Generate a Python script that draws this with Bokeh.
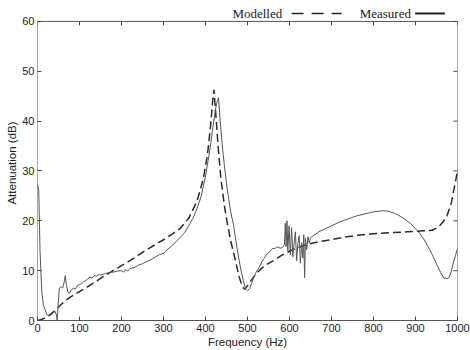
import math
from bokeh.plotting import figure
from bokeh.models import FixedTicker, Range1d, Label, Arrow
from bokeh.embed import file_html
from bokeh.resources import INLINE

# ---- data ----
freq_measured = [0, 3, 6, 10, 14, 18, 22, 26, 30, 34, 38, 42, 45, 47, 49, 52, 56, 60, 63, 66,
                 69, 72, 76, 80, 85, 90, 95, 100, 105, 110, 115, 120, 125, 130, 135, 140, 145,
                 150, 160, 170, 180, 190, 200, 205, 210, 215, 220, 230, 240, 250, 260, 270, 280,
                 290, 300, 310, 320, 330, 340, 350, 360, 370, 380, 390, 400, 410, 418, 424, 428,
                 431, 435, 440, 445, 450, 455, 460, 467, 475, 483, 490, 496, 500, 505, 510, 515,
                 520, 525, 530, 535, 540, 545, 550, 555, 560, 565, 570, 575, 580, 585, 588, 590,
                 592, 594, 596, 599, 602, 605, 608, 611, 614, 617, 620, 623, 626, 629, 632, 634,
                 636, 638, 641, 644, 647, 650, 660, 670, 680, 690, 700, 710, 720, 730, 740, 750,
                 760, 770, 780, 790, 800, 810, 820, 830, 840, 850, 860, 870, 880, 890, 900, 910,
                 920, 930, 940, 950, 960, 968, 975, 980, 985, 990, 995, 1000]
att_measured = [27.5, 26.0, 14.0, 6.0, 3.0, 2.2, 1.3, 0.9, 1.0, 1.2, 1.6, 1.8, 1.2, 0.0, 3.0,
                6.5, 6.8, 6.5, 7.5, 9.0, 7.0, 5.8, 5.5, 6.0, 6.5, 6.3, 7.0, 7.2, 7.4, 7.8, 8.0,
                8.4, 8.7, 8.5, 9.0, 8.9, 9.2, 9.1, 9.4, 9.6, 9.7, 9.9, 10.0, 9.7, 10.2, 9.9, 10.4,
                10.6, 11.1, 11.4, 11.8, 12.2, 12.7, 13.2, 13.5, 14.3, 15.0, 15.8, 16.7, 17.6,
                19.0, 20.5, 22.5, 25.0, 29.0, 34.0, 39.0, 42.5, 44.0, 44.7, 40.0, 35.0, 31.0,
                27.5, 24.5, 21.8, 19.0, 14.5, 10.7, 8.0, 6.3, 6.0, 6.4, 7.5, 8.7, 9.6, 10.3,
                11.0, 11.9, 12.5, 13.2, 13.6, 14.0, 14.5, 14.4, 14.8, 14.6, 14.5, 14.8, 15.2,
                19.5, 14.8, 20.0, 14.0, 19.0, 13.2, 18.6, 12.8, 15.5, 17.8, 12.0, 15.5, 17.0,
                11.5, 15.6, 12.5, 17.2, 8.6, 16.5, 14.2, 16.8, 15.5, 16.6, 17.2, 17.8, 18.2,
                18.6, 19.0, 19.4, 19.8, 20.1, 20.4, 20.7, 21.0, 21.2, 21.4, 21.6, 21.8, 21.9,
                22.0, 22.0, 21.8, 21.5, 21.1, 20.6, 20.0, 19.3, 18.4, 17.5, 16.3, 14.8, 13.2,
                11.4, 9.6, 8.5, 8.4, 8.6, 9.8, 11.5, 13.0, 14.5]

freq_modelled = [0, 10, 20, 30, 40, 50, 60, 70, 80, 90, 100, 120, 140, 160, 180, 200, 220, 240,
                 260, 280, 300, 320, 340, 360, 380, 395, 405, 412, 417, 420, 424, 430, 436, 445,
                 452, 460, 470, 480, 488, 494, 500, 510, 520, 530, 545, 562, 580, 602, 620, 643,
                 670, 698, 730, 762, 800, 840, 880, 920, 940, 955, 965, 975, 985, 992, 1000]
att_modelled = [0.0, 0.2, 0.6, 1.2, 1.9, 2.7, 3.5, 4.2, 4.8, 5.3, 5.8, 6.8, 7.9, 9.0, 10.0, 11.0,
                12.0, 13.1, 14.2, 15.2, 16.2, 17.3, 18.5, 20.5, 24.0, 28.5, 33.5, 39.0, 44.0,
                46.3, 42.0, 35.0, 29.0, 23.0, 19.5, 16.0, 12.5, 8.8, 6.7, 6.3, 7.0, 8.2, 9.3,
                10.2, 11.2, 12.0, 13.0, 14.0, 14.6, 15.3, 15.8, 16.2, 16.7, 17.1, 17.4, 17.6,
                17.8, 18.0, 18.1, 18.8, 19.7, 21.0, 23.5, 26.5, 30.0]

x_ticks = [0, 100, 200, 300, 400, 500, 600, 700, 800, 900, 1000]
y_ticks = [0, 10, 20, 30, 40, 50, 60]
series_names = ["Modelled", "Measured"]
x_label = "Frequency (Hz)"
y_label = "Attenuation (dB)"

TICK_FONT = "Liberation Sans"
LEGEND_FONT = "Liberation Serif"
X_MIN, X_MAX, Y_MIN, Y_MAX = 0, 1000, 0, 60
Y_VIEW_TOP = 63.2          # extra headroom above the box for the legend
BOX = "#555555"

p = figure(width=470, height=350, x_range=Range1d(X_MIN, X_MAX),
           y_range=Range1d(Y_MIN, Y_VIEW_TOP),
           output_backend="svg", toolbar_location=None,
           min_border_left=37, min_border_right=13, min_border_top=5, min_border_bottom=0)
p.background_fill_color = "white"
p.border_fill_color = "white"
p.outline_line_color = None
p.xgrid.visible = False
p.ygrid.visible = False

for ax, ticks in ((p.xaxis[0], x_ticks), (p.yaxis[0], y_ticks)):
    ax.ticker = FixedTicker(ticks=ticks)
    ax.major_tick_in = 4
    ax.major_tick_out = 0
    ax.minor_tick_line_color = None
    ax.major_tick_line_color = "#444444"
    ax.major_label_text_font = TICK_FONT
    ax.major_label_text_font_size = "11px"
    ax.major_label_text_color = "#222222"
    ax.major_label_standoff = 3
    ax.axis_label_text_font = TICK_FONT
    ax.axis_label_text_font_size = "11.5px"
    ax.axis_label_text_font_style = "normal"
    ax.axis_label_text_color = "#222222"
    ax.axis_label_standoff = 1
p.xaxis[0].axis_line_color = BOX
p.yaxis[0].axis_line_color = None
p.xaxis[0].axis_label = x_label
p.yaxis[0].axis_label = y_label

# the box: left, top and right edges (bottom is the x axis line)
p.line([X_MIN, X_MIN], [Y_MIN, Y_MAX], line_color=BOX, line_width=1)
p.line([X_MIN, X_MAX], [Y_MAX, Y_MAX], line_color=BOX, line_width=1)
p.line([X_MAX, X_MAX], [Y_MIN, Y_MAX], line_color=BOX, line_width=1)

# inward ticks on the top and right edges of the box
p.ray(x=x_ticks, y=[Y_MAX] * len(x_ticks), length=4, length_units="screen",
      angle=-math.pi / 2, line_color="#444444", line_width=1)
p.ray(x=[X_MAX] * len(y_ticks), y=y_ticks, length=4, length_units="screen",
      angle=math.pi, line_color="#444444", line_width=1)

# curves
p.line(freq_modelled, att_modelled, line_color="#2a2a2a", line_width=1.5, line_dash="8 4")
p.line(freq_measured, att_measured, line_color="#555555", line_width=1)

# legend (text followed by line sample), above the box
leg_y = 61.6
p.add_layout(Label(x=464, y=leg_y, text=series_names[0], text_font=LEGEND_FONT,
                   text_font_size="13px", text_baseline="middle", text_color="#222222"))
p.add_layout(Arrow(x_start=605, y_start=leg_y, x_end=724, y_end=leg_y, start=None, end=None,
                   line_color="#222222", line_width=1.5, line_dash="12 8"))
p.add_layout(Label(x=767, y=leg_y, text=series_names[1], text_font=LEGEND_FONT,
                   text_font_size="13px", text_baseline="middle", text_color="#222222"))
p.add_layout(Arrow(x_start=899, y_start=leg_y, x_end=970, y_end=leg_y, start=None, end=None,
                   line_color="#222222", line_width=2))

open("out.html", "w").write(file_html(p, INLINE))
